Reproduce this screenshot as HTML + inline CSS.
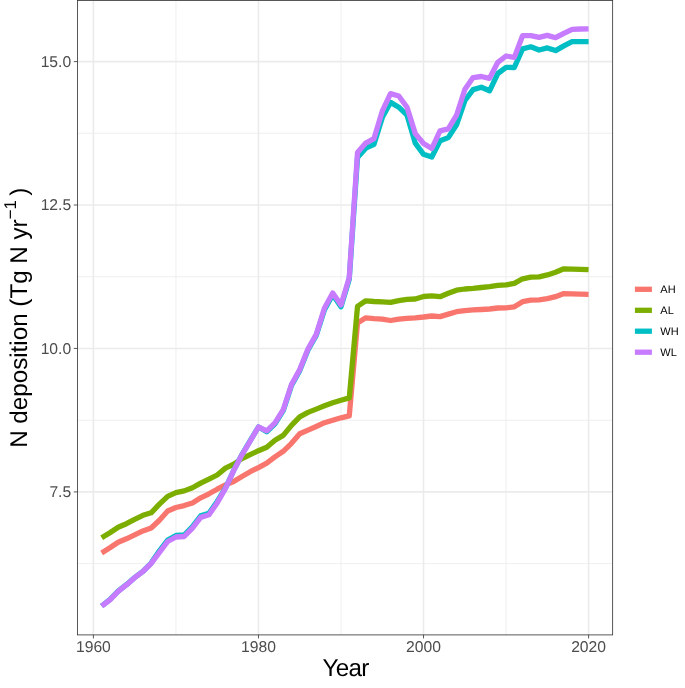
<!DOCTYPE html>
<html><head><meta charset="utf-8"><title>N deposition</title>
<style>
html,body{margin:0;padding:0;background:#fff;}
body{width:685px;height:688px;overflow:hidden;}
svg{display:block;will-change:transform;}
text{font-family:"Liberation Sans", sans-serif;text-rendering:geometricPrecision;}
.tk{font-size:15.7px;fill:#4D4D4D;}
.ti{font-size:24.2px;fill:#000;}
.lg{font-size:11px;fill:#000;}
</style></head>
<body>
<svg width="685" height="688" viewBox="0 0 685 688">
<rect x="0" y="0" width="685" height="688" fill="#FFFFFF"/>
<defs><clipPath id="pc"><rect x="77.5" y="0.45" width="535.15" height="634.45"/></clipPath></defs>
<g clip-path="url(#pc)">
<line x1="77.5" x2="612.65" y1="133.3" y2="133.3" stroke="#EBEBEB" stroke-width="0.8"/>
<line x1="77.5" x2="612.65" y1="276.75" y2="276.75" stroke="#EBEBEB" stroke-width="0.8"/>
<line x1="77.5" x2="612.65" y1="420.3" y2="420.3" stroke="#EBEBEB" stroke-width="0.8"/>
<line x1="77.5" x2="612.65" y1="563.6" y2="563.6" stroke="#EBEBEB" stroke-width="0.8"/>
<line x1="175.93" x2="175.93" y1="0.45" y2="634.9" stroke="#EBEBEB" stroke-width="0.8"/>
<line x1="341.00" x2="341.00" y1="0.45" y2="634.9" stroke="#EBEBEB" stroke-width="0.8"/>
<line x1="506.06" x2="506.06" y1="0.45" y2="634.9" stroke="#EBEBEB" stroke-width="0.8"/>
<line x1="77.5" x2="612.65" y1="61.6" y2="61.6" stroke="#EBEBEB" stroke-width="1.6"/>
<line x1="77.5" x2="612.65" y1="205.0" y2="205.0" stroke="#EBEBEB" stroke-width="1.6"/>
<line x1="77.5" x2="612.65" y1="348.45" y2="348.45" stroke="#EBEBEB" stroke-width="1.6"/>
<line x1="77.5" x2="612.65" y1="491.9" y2="491.9" stroke="#EBEBEB" stroke-width="1.6"/>
<line x1="93.40" x2="93.40" y1="0.45" y2="634.9" stroke="#EBEBEB" stroke-width="1.6"/>
<line x1="258.47" x2="258.47" y1="0.45" y2="634.9" stroke="#EBEBEB" stroke-width="1.6"/>
<line x1="423.53" x2="423.53" y1="0.45" y2="634.9" stroke="#EBEBEB" stroke-width="1.6"/>
<line x1="588.60" x2="588.60" y1="0.45" y2="634.9" stroke="#EBEBEB" stroke-width="1.6"/>
<polyline points="101.65,552.90 109.91,547.80 118.16,542.30 126.41,538.80 134.67,534.90 142.92,530.90 151.17,528.00 159.43,520.20 167.68,511.00 175.93,507.50 184.19,505.60 192.44,502.90 200.69,497.80 208.95,493.80 217.20,489.20 225.45,484.90 233.71,481.50 241.96,476.50 250.21,471.70 258.47,467.60 266.72,463.20 274.97,456.90 283.23,451.30 291.48,443.30 299.73,433.70 307.99,430.10 316.24,426.50 324.49,422.70 332.75,420.20 341.00,417.80 349.25,415.90 357.51,322.90 365.76,317.80 374.01,318.60 382.27,319.20 390.52,320.50 398.77,319.20 407.03,318.30 415.28,317.80 423.53,317.00 431.79,316.00 440.04,316.60 448.29,314.10 456.55,311.70 464.80,310.70 473.05,309.90 481.31,309.50 489.56,309.00 497.81,308.00 506.06,307.90 514.32,306.80 522.57,301.70 530.82,300.20 539.08,299.80 547.33,298.70 555.58,296.70 563.84,293.60 572.09,293.80 580.34,294.10 588.60,294.30" fill="none" stroke="#F8766D" stroke-width="5.3" stroke-linejoin="round" stroke-linecap="butt"/>
<polyline points="101.65,537.80 109.91,532.70 118.16,527.20 126.41,523.70 134.67,519.30 142.92,515.30 151.17,512.80 159.43,504.20 167.68,496.30 175.93,492.60 184.19,490.90 192.44,487.70 200.69,483.10 208.95,479.20 217.20,475.00 225.45,468.10 233.71,464.10 241.96,458.60 250.21,454.70 258.47,450.70 266.72,447.20 274.97,440.20 283.23,435.40 291.48,425.40 299.73,416.80 307.99,412.40 316.24,409.10 324.49,405.80 332.75,402.80 341.00,400.30 349.25,397.90 357.51,306.40 365.76,300.80 374.01,301.50 382.27,301.80 390.52,302.30 398.77,300.60 407.03,299.40 415.28,299.00 423.53,296.50 431.79,295.80 440.04,296.70 448.29,293.30 456.55,290.20 464.80,289.00 473.05,288.40 481.31,287.50 489.56,286.60 497.81,285.30 506.06,284.90 514.32,283.40 522.57,278.80 530.82,277.20 539.08,276.80 547.33,274.90 555.58,272.20 563.84,268.80 572.09,269.10 580.34,269.30 588.60,269.70" fill="none" stroke="#7CAE00" stroke-width="5.3" stroke-linejoin="round" stroke-linecap="butt"/>
<polyline points="101.65,606.00 109.91,599.60 118.16,591.10 126.41,584.70 134.67,577.50 142.92,571.30 151.17,563.10 159.43,550.80 167.68,540.00 175.93,535.50 184.19,535.00 192.44,526.60 200.69,515.90 208.95,513.30 217.20,501.40 225.45,488.20 233.71,470.30 241.96,454.50 250.21,440.70 258.47,427.00 266.72,431.80 274.97,423.80 283.23,410.70 291.48,385.50 299.73,370.60 307.99,350.00 316.24,335.40 324.49,309.80 332.75,294.80 341.00,306.70 349.25,279.20 357.51,157.50 365.76,148.20 374.01,144.30 382.27,117.60 390.52,102.40 398.77,107.20 407.03,115.20 415.28,143.20 423.53,154.30 431.79,157.00 440.04,140.80 448.29,137.60 456.55,124.80 464.80,100.80 473.05,89.60 481.31,87.20 489.56,90.80 497.81,73.50 506.06,67.40 514.32,67.50 522.57,48.90 530.82,46.80 539.08,50.00 547.33,47.90 555.58,50.60 563.84,45.90 572.09,41.60 580.34,41.60 588.60,41.60" fill="none" stroke="#00BFC4" stroke-width="5.3" stroke-linejoin="round" stroke-linecap="butt"/>
<polyline points="101.65,606.20 109.91,599.80 118.16,591.30 126.41,584.90 134.67,577.70 142.92,571.50 151.17,563.30 159.43,552.30 167.68,541.50 175.93,537.00 184.19,536.50 192.44,528.10 200.69,517.40 208.95,514.80 217.20,502.90 225.45,488.50 233.71,470.60 241.96,454.80 250.21,441.00 258.47,427.00 266.72,430.80 274.97,422.80 283.23,409.70 291.48,384.50 299.73,369.60 307.99,349.00 316.24,334.40 324.49,308.00 332.75,293.00 341.00,304.90 349.25,277.40 357.51,152.60 365.76,143.10 374.01,138.60 382.27,111.20 390.52,93.60 398.77,96.00 407.03,107.20 415.28,133.60 423.53,143.50 431.79,148.50 440.04,130.80 448.29,128.80 456.55,115.20 464.80,89.60 473.05,77.60 481.31,76.50 489.56,78.30 497.81,62.30 506.06,56.00 514.32,57.40 522.57,35.70 530.82,35.70 539.08,37.40 547.33,35.40 555.58,37.70 563.84,33.30 572.09,29.30 580.34,29.00 588.60,28.80" fill="none" stroke="#C77CFF" stroke-width="5.3" stroke-linejoin="round" stroke-linecap="butt"/>
</g>
<rect x="77.5" y="0.45" width="535.15" height="634.45" fill="none" stroke="#333333" stroke-width="0.82"/>
<line x1="73.80" x2="77.5" y1="61.6" y2="61.6" stroke="#333333" stroke-width="0.82"/>
<text x="71.2" y="66.9" text-anchor="end" class="tk">15.0</text>
<line x1="73.80" x2="77.5" y1="205.0" y2="205.0" stroke="#333333" stroke-width="0.82"/>
<text x="71.2" y="210.3" text-anchor="end" class="tk">12.5</text>
<line x1="73.80" x2="77.5" y1="348.45" y2="348.45" stroke="#333333" stroke-width="0.82"/>
<text x="71.2" y="353.8" text-anchor="end" class="tk">10.0</text>
<line x1="73.80" x2="77.5" y1="491.9" y2="491.9" stroke="#333333" stroke-width="0.82"/>
<text x="71.2" y="497.2" text-anchor="end" class="tk">7.5</text>
<line x1="93.40" x2="93.40" y1="634.9" y2="638.40" stroke="#333333" stroke-width="0.82"/>
<text x="93.40" y="652.4" text-anchor="middle" class="tk">1960</text>
<line x1="258.47" x2="258.47" y1="634.9" y2="638.40" stroke="#333333" stroke-width="0.82"/>
<text x="258.47" y="652.4" text-anchor="middle" class="tk">1980</text>
<line x1="423.53" x2="423.53" y1="634.9" y2="638.40" stroke="#333333" stroke-width="0.82"/>
<text x="423.53" y="652.4" text-anchor="middle" class="tk">2000</text>
<line x1="588.60" x2="588.60" y1="634.9" y2="638.40" stroke="#333333" stroke-width="0.82"/>
<text x="588.60" y="652.4" text-anchor="middle" class="tk">2020</text>
<text x="345.6" y="676.2" text-anchor="middle" class="ti" letter-spacing="-0.7">Year</text>
<text transform="translate(27,317.75) rotate(-90)" text-anchor="middle" class="ti">N deposition (Tg N yr<tspan dy="-11.5" font-size="17">&#8722;1</tspan><tspan dy="11.5" dx="-2.5"> )</tspan></text>
<line x1="634.9" x2="651.9" y1="289.3" y2="289.3" stroke="#F8766D" stroke-width="5.3"/>
<text x="660.3" y="293.1" class="lg">AH</text>
<line x1="634.9" x2="651.9" y1="310.3" y2="310.3" stroke="#7CAE00" stroke-width="5.3"/>
<text x="660.3" y="314.1" class="lg">AL</text>
<line x1="634.9" x2="651.9" y1="331.2" y2="331.2" stroke="#00BFC4" stroke-width="5.3"/>
<text x="660.3" y="335.0" class="lg">WH</text>
<line x1="634.9" x2="651.9" y1="352.2" y2="352.2" stroke="#C77CFF" stroke-width="5.3"/>
<text x="660.3" y="356.0" class="lg">WL</text>
</svg>
</body></html>
